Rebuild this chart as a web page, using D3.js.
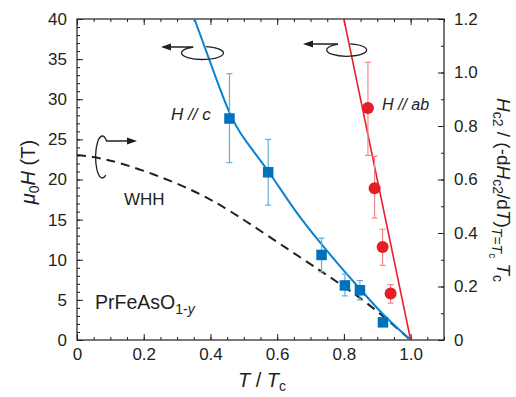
<!DOCTYPE html>
<html><head><meta charset="utf-8">
<script src="https://cdn.jsdelivr.net/npm/d3@7"></script>
<style>
body{margin:0;background:#fff}
svg{font-family:"Liberation Sans",Arial,sans-serif;}
</style></head><body><div id="chart"></div>
<script>
// H // c  (blue squares), field in tesla
const cT  = [0.457, 0.573, 0.733, 0.803, 0.848, 0.917];
const cH  = [27.6, 20.9, 10.6, 6.8, 6.2, 2.2];
const cLo = [22.1, 16.8, 8.5, 5.5, 5.0, null];
const cHi = [33.2, 25.0, 12.7, 8.2, 7.4, null];

// H // ab  (red circles)
const abT  = [0.872, 0.892, 0.916, 0.940];
const abH  = [28.9, 18.9, 11.6, 5.8];
const abLo = [23.0, 15.2, 9.3, 4.6];
const abHi = [34.6, 22.9, 13.8, 6.9];

// fit lines
const fitCT  = [0.352, 0.405, 0.457, 0.5, 0.573, 0.65, 0.733, 0.8, 0.85, 0.917, 1.0];
const fitCH  = [40, 34.0, 28.0, 25.0, 21.2, 16.2, 11.9, 8.6, 6.3, 3.1, 0];
const fitAbT = [0.80, 1.0];
const fitAbH = [40, 0];

// WHH curve, right axis units
const whhT = [0, 0.08, 0.2, 0.33, 0.41, 0.5, 0.64, 0.72, 0.8, 0.88, 1.0];
const whhH = [0.692, 0.68, 0.635, 0.57, 0.52, 0.45, 0.333, 0.267, 0.2, 0.13, 0];

const xTicks  = [0, 0.2, 0.4, 0.6, 0.8, 1.0];
const yTicks  = [0, 5, 10, 15, 20, 25, 30, 35, 40];
const yrTicks = [0, 0.2, 0.4, 0.6, 0.8, 1.0, 1.2];

const W = 516, H = 397;
const m = {l: 77, r: 72, t: 19, b: 57};
const ink = "#231f20";
const blue = "#0071bc", blueLine = "#0b82cf", blueErr = "#62aee0";
const red = "#e31e24", redLine = "#e5202e", redErr = "#f2878b";

const svg = d3.select("#chart").append("svg").attr("width", W).attr("height", H);

const x  = d3.scaleLinear().domain([0, 1.1]).range([m.l, W - m.r]);
const y  = d3.scaleLinear().domain([0, 40]).range([H - m.b, m.t]);
const yR = d3.scaleLinear().domain([0, 1.2]).range([H - m.b, m.t]);

const fmtX = d => d === 0 ? "0" : d3.format(".1f")(d);

// axes, ticks pointing in
function addAxis(axis, tr){
  const g = svg.append("g").attr("transform", tr).call(axis);
  g.select(".domain").remove();
  g.selectAll("line").attr("stroke", ink).attr("stroke-width", 1);
  g.selectAll("text").attr("fill", ink).style("font-size", "17px").style("font-family", "'Liberation Sans',Arial,sans-serif");
  return g;
}
const minorX = d3.range(0, 1.1001, 0.05);
const minorY = d3.range(0, 40.001, 1);
const minorR = d3.range(0, 1.2001, 0.1);

addAxis(d3.axisBottom(x).tickValues(minorX).tickSize(-3).tickFormat(""), `translate(0,${H - m.b})`);
addAxis(d3.axisTop(x).tickValues(minorX).tickSize(-3).tickFormat(""), `translate(0,${m.t})`);
addAxis(d3.axisLeft(y).tickValues(minorY).tickSize(-3).tickFormat(""), `translate(${m.l},0)`);
addAxis(d3.axisRight(yR).tickValues(minorR).tickSize(-3).tickFormat(""), `translate(${W - m.r},0)`);

addAxis(d3.axisBottom(x).tickValues(xTicks).tickSize(-6).tickPadding(8).tickFormat(fmtX), `translate(0,${H - m.b})`);
addAxis(d3.axisTop(x).tickValues(xTicks).tickSize(-6).tickFormat(""), `translate(0,${m.t})`);
addAxis(d3.axisLeft(y).tickValues(yTicks).tickSize(-6).tickPadding(10), `translate(${m.l},0)`);
addAxis(d3.axisRight(yR).tickValues(yrTicks).tickSize(-6).tickPadding(10).tickFormat(fmtX), `translate(${W - m.r},0)`);

svg.append("rect")
  .attr("x", m.l).attr("y", m.t)
  .attr("width", W - m.r - m.l).attr("height", H - m.b - m.t)
  .attr("fill", "none").attr("stroke", ink).attr("stroke-width", 1.2);

// clip for curves
svg.append("clipPath").attr("id", "clip").append("rect")
  .attr("x", m.l).attr("y", m.t).attr("width", W - m.r - m.l).attr("height", H - m.b - m.t);
const plot = svg.append("g").attr("clip-path", "url(#clip)");

// WHH dashed
plot.append("path")
  .datum(d3.zip(whhT, whhH))
  .attr("d", d3.line().x(d => x(d[0])).y(d => yR(d[1])).curve(d3.curveBasis))
  .attr("fill", "none").attr("stroke", ink).attr("stroke-width", 2)
  .attr("stroke-dasharray", "9,6");

// fit lines
plot.append("path")
  .datum(d3.zip(fitCT, fitCH))
  .attr("d", d3.line().x(d => x(d[0])).y(d => y(d[1])).curve(d3.curveBasis))
  .attr("fill", "none").attr("stroke", blueLine).attr("stroke-width", 2);
plot.append("path")
  .datum(d3.zip(fitAbT, fitAbH))
  .attr("d", d3.line().x(d => x(d[0])).y(d => y(d[1])))
  .attr("fill", "none").attr("stroke", redLine).attr("stroke-width", 1.6);

// error bars
function errBars(ts, lo, hi, col){
  const d = ts.map((t, i) => ({t, lo: lo[i], hi: hi[i]})).filter(e => e.lo !== null);
  const g = svg.append("g").attr("stroke", col).attr("stroke-width", 1.2);
  g.selectAll(".v").data(d).join("line")
    .attr("x1", e => x(e.t)).attr("x2", e => x(e.t))
    .attr("y1", e => y(e.lo)).attr("y2", e => y(e.hi));
  g.selectAll(".c1").data(d).join("line")
    .attr("x1", e => x(e.t) - 3).attr("x2", e => x(e.t) + 3)
    .attr("y1", e => y(e.lo)).attr("y2", e => y(e.lo));
  g.selectAll(".c2").data(d).join("line")
    .attr("x1", e => x(e.t) - 3).attr("x2", e => x(e.t) + 3)
    .attr("y1", e => y(e.hi)).attr("y2", e => y(e.hi));
}
errBars(cT, cLo, cHi, blueErr);
errBars(abT, abLo, abHi, redErr);

const sq = 10.5;
svg.append("g").selectAll("rect").data(d3.zip(cT, cH)).join("rect")
  .attr("x", d => x(d[0]) - sq / 2).attr("y", d => y(d[1]) - sq / 2)
  .attr("width", sq).attr("height", sq).attr("fill", blue);
svg.append("g").selectAll("circle").data(d3.zip(abT, abH)).join("circle")
  .attr("cx", d => x(d[0])).attr("cy", d => y(d[1])).attr("r", 6).attr("fill", red);

// curly arrows telling which axis a curve belongs to
function curl(cx, cy, rx, ry, a0, a1, tipX, tipY){
  const rad = Math.PI / 180;
  const sx = cx + rx * Math.cos(a0 * rad), sy = cy + ry * Math.sin(a0 * rad);
  const ex = cx + rx * Math.cos(a1 * rad), ey = cy + ry * Math.sin(a1 * rad);
  const p = `M${tipX},${tipY}L${sx},${tipY}L${sx},${sy}A${rx},${ry} 0 1 0 ${ex},${ey}`;
  svg.append("path").attr("d", p).attr("fill", "none").attr("stroke", ink).attr("stroke-width", 1.3);
  const dir = tipX < sx ? -1 : 1;
  svg.append("path")
    .attr("d", `M${tipX + dir * 2},${tipY}L${tipX - dir * 8},${tipY - 3.5}L${tipX - dir * 8},${tipY + 3.5}Z`)
    .attr("fill", ink);
}
curl(202.5, 53, 21, 6.5, -118, -80, 163, 47);
curl(346.7, 50, 20, 6.3, -118, -80, 305, 44);
curl(102.3, 157, 6.7, 21, -50, 60, 135, 141);

// in-plot labels
function txt(xp, yp, size){
  return svg.append("text").attr("x", xp).attr("y", yp).attr("fill", ink).style("font-size", size + "px");
}
txt(171, 120, 17).style("font-style", "italic").text("H // c");
txt(382, 110, 16).style("font-style", "italic").text("H // ab");
txt(124, 205, 17).text("WHH");
const pr = txt(95, 309, 19.5);
pr.append("tspan").text("PrFeAsO");
pr.append("tspan").attr("dy", 5).style("font-size", "14px").text("1-");
pr.append("tspan").style("font-size", "14px").style("font-style", "italic").text("y");

// axis titles
const xt = txt(262, 387, 20).attr("text-anchor", "middle");
xt.append("tspan").style("font-style", "italic").text("T");
xt.append("tspan").text(" / ");
xt.append("tspan").style("font-style", "italic").text("T");
xt.append("tspan").attr("dy", 4).style("font-size", "14px").text("c");

const yt = svg.append("text").attr("transform", "translate(35,172) rotate(-90)")
  .attr("text-anchor", "middle").attr("fill", ink).style("font-size", "20px");
yt.append("tspan").style("font-style", "italic").text("μ");
yt.append("tspan").attr("dy", 4).style("font-size", "14px").text("0");
yt.append("tspan").attr("dy", -4).style("font-style", "italic").text("H");
yt.append("tspan").text(" (T)");

const rt = svg.append("text").attr("transform", "translate(497,190) rotate(90)")
  .attr("text-anchor", "middle").attr("fill", ink).style("font-size", "19px");
rt.append("tspan").style("font-style", "italic").text("H");
rt.append("tspan").attr("dy", 4).style("font-size", "14px").text("c2");
rt.append("tspan").attr("dy", -4).text(" / (-d");
rt.append("tspan").style("font-style", "italic").text("H");
rt.append("tspan").attr("dy", 4).style("font-size", "14px").text("c2");
rt.append("tspan").attr("dy", -4).text("/d");
rt.append("tspan").style("font-style", "italic").text("T");
rt.append("tspan").text(")");
rt.append("tspan").attr("dy", 5).style("font-size", "14px").style("font-style", "italic").text("T");
rt.append("tspan").style("font-size", "14px").text("=");
rt.append("tspan").style("font-size", "14px").style("font-style", "italic").text("T");
rt.append("tspan").attr("dy", 3).style("font-size", "10px").text("c");
rt.append("tspan").attr("dy", -8).text(" ");
rt.append("tspan").style("font-style", "italic").text("T");
rt.append("tspan").attr("dy", 4).style("font-size", "14px").text("c");
</script></body></html>
